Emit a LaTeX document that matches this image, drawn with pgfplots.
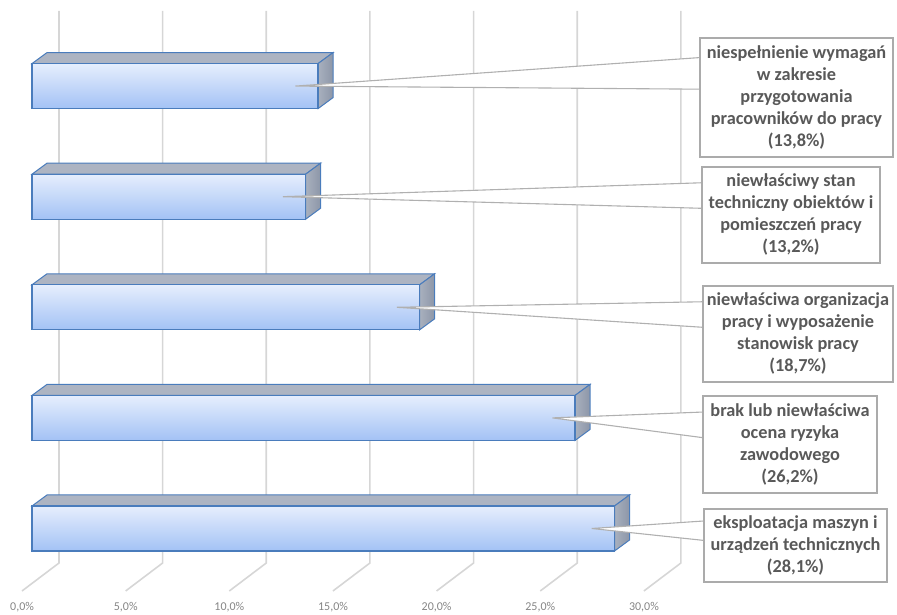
\documentclass[border=0pt]{standalone}
\usepackage{fontspec}
\setmainfont{Carlito}
\usepackage{pgfplots}
\usepackage{pgfplotstable}
\pgfplotsset{compat=1.18}

\definecolor{gridGray}{HTML}{D6D6D6}
\definecolor{barTop}{HTML}{E6EEFD}
\definecolor{barBottom}{HTML}{A3C2F5}
\definecolor{barEdge}{HTML}{4A7CBC}
\definecolor{faceTop}{HTML}{ADB4C2}
\definecolor{faceSide}{HTML}{8C96A8}
\definecolor{labelText}{HTML}{595959}
\definecolor{boxEdge}{HTML}{ABABAB}
\definecolor{wedgeEdge}{HTML}{B0B0B0}
\definecolor{tickText}{HTML}{858585}

% share of accident causes (%), bottom bar first
\pgfplotstableread{
pos value
0 28.1
1 26.2
2 18.7
3 13.2
4 13.8
}\causes

% callout base on the left edge of each label box (axis units)
\pgfplotstableread{
pos xl   ya    yb
0 32.417 0.068 -0.108
1 32.369 1.053 0.821
2 32.369 2.050 1.819
3 32.320 3.126 2.895
4 32.224 4.258 3.972
}\callouts

% half bar thickness and 3-D depth offsets, in axis units
\def\barhh{0.2035}
\def\depthx{0.7236}
\def\depthy{0.0995}

\tikzset{
  causebox/.style={draw=boxEdge, line width=1.2pt, fill=white, align=center,
    inner sep=0pt, text=labelText, font=\fontsize{18.3}{22}\selectfont\bfseries},
  ticklab/.style={text=tickText, font=\fontsize{12}{14}\selectfont, inner sep=0pt},
}

\begin{document}
\begin{tikzpicture}[x=1pt,y=1pt]
\begin{axis}[
  at={(0,0)}, anchor=south west,
  width=897pt, height=615pt, scale only axis,
  xmin=-1.5437, xmax=41.727, ymin=-0.7821, ymax=4.7785,
  hide axis, clip=false,
]
% back-wall gridlines with their floor segments
\addplot[gridGray, line width=1.6pt, unbounded coords=jump] coordinates {
(1.302,4.679)  (1.302,-0.312)  (-0.483,-0.565) (nan,nan)
(6.302,4.679)  (6.302,-0.312)  (4.517,-0.565)  (nan,nan)
(11.302,4.679) (11.302,-0.312) (9.517,-0.565)  (nan,nan)
(16.302,4.679) (16.302,-0.312) (14.517,-0.565) (nan,nan)
(21.302,4.679) (21.302,-0.312) (19.517,-0.565) (nan,nan)
(26.302,4.679) (26.302,-0.312) (24.517,-0.565) (nan,nan)
(31.302,4.679) (31.302,-0.312) (29.517,-0.565)
};

% each bar: top face, side face, then the shaded front face
\pgfplotsforeachungrouped \r in {0,...,4}{
  \pgfplotstablegetelem{\r}{pos}\of\causes \let\p\pgfplotsretval
  \pgfplotstablegetelem{\r}{value}\of\causes \let\v\pgfplotsretval
  \pgfmathsetmacro\yf{\p+\barhh}
  \pgfmathsetmacro\yb{\p+\barhh+\depthy}
  \pgfmathsetmacro\ylb{\p-\barhh+\depthy}
  \pgfmathsetmacro\ylf{\p-\barhh}
  \pgfmathsetmacro\xe{\v+\depthx}
  \edef\faces{%
    \noexpand\addplot[fill=faceTop, draw=barEdge, line width=1pt]
      coordinates {(0,\yf) (\v,\yf) (\xe,\yb) (\depthx,\yb)} -- cycle;
    \noexpand\addplot[left color=faceSide!75!white, right color=faceSide, draw=barEdge, line width=1pt]
      coordinates {(\v,\yf) (\xe,\yb) (\xe,\ylb) (\v,\ylf)} -- cycle;
    \noexpand\addplot[xbar, bar shift=0pt, bar width=0.407, draw=barEdge, line width=1.3pt,
      top color=barTop, bottom color=barBottom] coordinates {(\v,\p)};
  }\faces
}

% callout pointers
\pgfplotsforeachungrouped \r in {0,...,4}{
  \pgfplotstablegetelem{\r}{pos}\of\causes \let\p\pgfplotsretval
  \pgfplotstablegetelem{\r}{value}\of\causes \let\v\pgfplotsretval
  \pgfplotstablegetelem{\r}{xl}\of\callouts \let\xl\pgfplotsretval
  \pgfplotstablegetelem{\r}{ya}\of\callouts \let\ya\pgfplotsretval
  \pgfplotstablegetelem{\r}{yb}\of\callouts \let\ybb\pgfplotsretval
  \pgfmathsetmacro\tip{\v-1.1}
  \edef\wedge{%
    \noexpand\addplot[fill=white, draw=wedgeEdge, line width=1.1pt]
      coordinates {(\tip,\p) (\xl,\ya) (\xl,\ybb)} -- cycle;
  }\wedge
}

% label boxes
\node[causebox, minimum width=193pt, minimum height=119pt] at (axis cs:36.879,3.897)
  {niespełnienie wymagań\\w zakresie\\przygotowania\\pracowników do pracy\\(13,8\%)};
\node[causebox, minimum width=178pt, minimum height=96pt] at (axis cs:36.614,2.835)
  {niewłaściwy stan\\techniczny obiektów i\\pomieszczeń pracy\\(13,2\%)};
\node[causebox, minimum width=190pt, minimum height=96pt] at (axis cs:36.951,1.759)
  {niewłaściwa organizacja\\pracy i wyposażenie\\stanowisk pracy\\(18,7\%)};
\node[causebox, minimum width=174pt, minimum height=97pt] at (axis cs:36.565,0.759)
  {brak lub niewłaściwa\\ocena ryzyka\\zawodowego\\(26,2\%)};
\node[causebox, minimum width=183pt, minimum height=73pt] at (axis cs:36.831,-0.154)
  {eksploatacja maszyn i\\urządzeń technicznych\\(28,1\%)};

% value axis labels on the floor edge
\node[ticklab] at (axis cs:-0.48,-0.710) {0,0\%};
\node[ticklab] at (axis cs:4.52,-0.710) {5,0\%};
\node[ticklab] at (axis cs:9.52,-0.710) {10,0\%};
\node[ticklab] at (axis cs:14.52,-0.710) {15,0\%};
\node[ticklab] at (axis cs:19.52,-0.710) {20,0\%};
\node[ticklab] at (axis cs:24.52,-0.710) {25,0\%};
\node[ticklab] at (axis cs:29.52,-0.710) {30,0\%};
\end{axis}
\pgfresetboundingbox
\path (0,0) rectangle (897,615);
\end{tikzpicture}
\end{document}
